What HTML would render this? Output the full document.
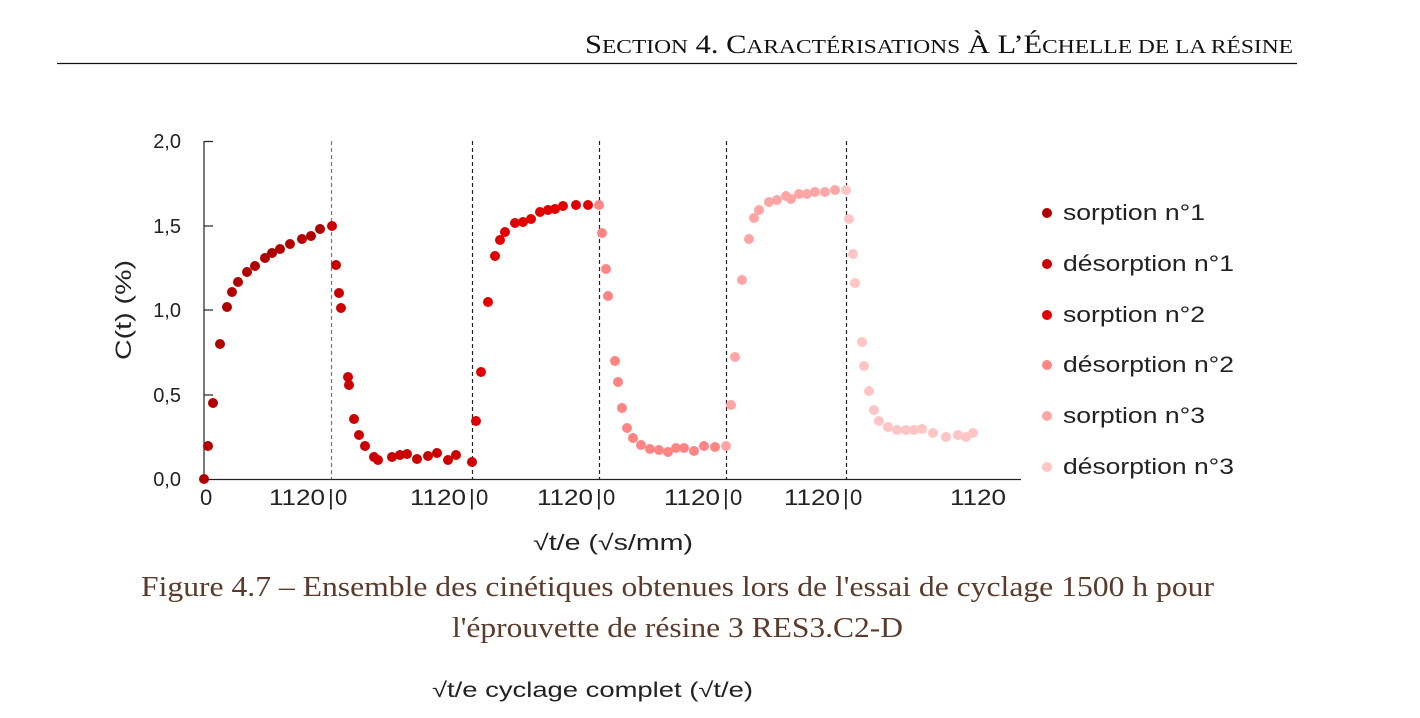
<!DOCTYPE html>
<html><head><meta charset="utf-8"><style>
body{margin:0;width:1420px;height:718px;background:#fff;overflow:hidden;position:relative}
svg{position:absolute;left:0;top:0}
</style></head><body>
<svg width="1420" height="718" xmlns="http://www.w3.org/2000/svg">
<text x="585" y="53" textLength="708" lengthAdjust="spacingAndGlyphs" font-family="Liberation Serif, serif" font-size="26" fill="#111"><tspan>S</tspan><tspan font-size="20">ECTION</tspan> 4. <tspan>C</tspan><tspan font-size="20">ARACTÉRISATIONS</tspan> <tspan>À</tspan> <tspan>L’É</tspan><tspan font-size="20">CHELLE DE LA RÉSINE</tspan></text>
<line x1="57" y1="63.5" x2="1297" y2="63.5" stroke="#111" stroke-width="1.2"/>
<g stroke="#222" stroke-width="1.2">
<line x1="204" y1="141" x2="204" y2="479"/>
<line x1="204" y1="479.5" x2="1021" y2="479.5"/>
<line x1="204" y1="141.5" x2="213" y2="141.5"/><line x1="204" y1="226" x2="213" y2="226"/><line x1="204" y1="310" x2="213" y2="310"/><line x1="204" y1="395" x2="213" y2="395"/>
</g>
<g stroke="#222" stroke-width="1.2" stroke-dasharray="4,3">
<line x1="331.5" y1="141" x2="331.5" y2="479" stroke="#777"/>
<line x1="472.5" y1="141" x2="472.5" y2="479"/>
<line x1="599.5" y1="141" x2="599.5" y2="479"/>
<line x1="726.5" y1="141" x2="726.5" y2="479"/>
<line x1="846.5" y1="141" x2="846.5" y2="479"/>
</g>
<g font-family="Liberation Sans, sans-serif" font-size="20" fill="#222" text-anchor="end">
<text x="181" y="148">2,0</text><text x="181" y="233">1,5</text><text x="181" y="317">1,0</text><text x="181" y="402">0,5</text><text x="181" y="486">0,0</text>
</g>
<g font-family="Liberation Sans, sans-serif" font-size="22" fill="#222">
<text x="200" y="505">0</text>
<text x="269" y="505" textLength="56" lengthAdjust="spacingAndGlyphs">1120</text><text x="328" y="505">|</text><text x="335" y="505">0</text>
<text x="410" y="505" textLength="56" lengthAdjust="spacingAndGlyphs">1120</text><text x="469" y="505">|</text><text x="476" y="505">0</text>
<text x="537" y="505" textLength="56" lengthAdjust="spacingAndGlyphs">1120</text><text x="596" y="505">|</text><text x="603" y="505">0</text>
<text x="664" y="505" textLength="56" lengthAdjust="spacingAndGlyphs">1120</text><text x="723" y="505">|</text><text x="730" y="505">0</text>
<text x="784" y="505" textLength="56" lengthAdjust="spacingAndGlyphs">1120</text><text x="843" y="505">|</text><text x="850" y="505">0</text>
<text x="950" y="505" textLength="56" lengthAdjust="spacingAndGlyphs">1120</text>
<text x="533" y="550" textLength="160" lengthAdjust="spacingAndGlyphs">√t/e  (√s/mm)</text>
<text transform="translate(131,360) rotate(-90)" textLength="100" lengthAdjust="spacingAndGlyphs">C(t)  (%)</text>
</g>
<g fill="#b00000">
<circle cx="204" cy="479" r="5"/><circle cx="208" cy="446" r="5"/><circle cx="213" cy="403" r="5"/><circle cx="220" cy="344" r="5"/><circle cx="227" cy="307" r="5"/><circle cx="232" cy="292" r="5"/><circle cx="238" cy="282" r="5"/><circle cx="247" cy="272" r="5"/><circle cx="255" cy="266" r="5"/><circle cx="265" cy="258" r="5"/><circle cx="272" cy="253" r="5"/><circle cx="280" cy="249" r="5"/><circle cx="290" cy="244" r="5"/><circle cx="302" cy="239" r="5"/><circle cx="311" cy="236" r="5"/><circle cx="320" cy="229" r="5"/>
</g>
<g fill="#cc0000">
<circle cx="332" cy="226" r="5"/><circle cx="336" cy="265" r="5"/><circle cx="339" cy="293" r="5"/><circle cx="341" cy="308" r="5"/><circle cx="348" cy="377" r="5"/><circle cx="349" cy="385" r="5"/><circle cx="354" cy="419" r="5"/><circle cx="359" cy="435" r="5"/><circle cx="365" cy="446" r="5"/><circle cx="374" cy="457" r="5"/><circle cx="378" cy="460" r="5"/><circle cx="392" cy="457" r="5"/><circle cx="400" cy="455" r="5"/><circle cx="407" cy="454" r="5"/><circle cx="417" cy="459" r="5"/><circle cx="428" cy="456" r="5"/><circle cx="437" cy="453" r="5"/><circle cx="448" cy="460" r="5"/><circle cx="456" cy="455" r="5"/><circle cx="472" cy="462" r="5"/>
</g>
<g fill="#e00000">
<circle cx="476" cy="421" r="5"/><circle cx="481" cy="372" r="5"/><circle cx="488" cy="302" r="5"/><circle cx="495" cy="256" r="5"/><circle cx="500" cy="240" r="5"/><circle cx="505" cy="232" r="5"/><circle cx="515" cy="223" r="5"/><circle cx="523" cy="222" r="5"/><circle cx="531" cy="219" r="5"/><circle cx="540" cy="212" r="5"/><circle cx="548" cy="210" r="5"/><circle cx="555" cy="209" r="5"/><circle cx="563" cy="206" r="5"/><circle cx="576" cy="205" r="5"/><circle cx="588" cy="205" r="5"/>
</g>
<g fill="#ff8585">
<circle cx="599" cy="205" r="5"/><circle cx="602" cy="233" r="5"/><circle cx="606" cy="269" r="5"/><circle cx="608" cy="296" r="5"/><circle cx="615" cy="361" r="5"/><circle cx="618" cy="382" r="5"/><circle cx="622" cy="408" r="5"/><circle cx="627" cy="428" r="5"/><circle cx="633" cy="438" r="5"/><circle cx="641" cy="445" r="5"/><circle cx="650" cy="449" r="5"/><circle cx="659" cy="450" r="5"/><circle cx="668" cy="452" r="5"/><circle cx="676" cy="448" r="5"/><circle cx="684" cy="448" r="5"/><circle cx="694" cy="451" r="5"/><circle cx="704" cy="446" r="5"/><circle cx="715" cy="447" r="5"/>
</g>
<g fill="#ffa5a5">
<circle cx="726" cy="446" r="5"/><circle cx="731" cy="405" r="5"/><circle cx="735" cy="357" r="5"/><circle cx="742" cy="280" r="5"/><circle cx="749" cy="239" r="5"/><circle cx="754" cy="218" r="5"/><circle cx="759" cy="210" r="5"/><circle cx="769" cy="202" r="5"/><circle cx="777" cy="200" r="5"/><circle cx="786" cy="196" r="5"/><circle cx="791" cy="199" r="5"/><circle cx="799" cy="194" r="5"/><circle cx="807" cy="194" r="5"/><circle cx="815" cy="192" r="5"/><circle cx="825" cy="192" r="5"/><circle cx="835" cy="190" r="5"/>
</g>
<g fill="#ffc4c4">
<circle cx="846" cy="190" r="5"/><circle cx="849" cy="219" r="5"/><circle cx="853" cy="254" r="5"/><circle cx="855" cy="283" r="5"/><circle cx="862" cy="342" r="5"/><circle cx="864" cy="366" r="5"/><circle cx="869" cy="391" r="5"/><circle cx="874" cy="410" r="5"/><circle cx="879" cy="421" r="5"/><circle cx="888" cy="427" r="5"/><circle cx="897" cy="430" r="5"/><circle cx="906" cy="430" r="5"/><circle cx="914" cy="430" r="5"/><circle cx="922" cy="429" r="5"/><circle cx="933" cy="433" r="5"/><circle cx="946" cy="437" r="5"/><circle cx="958" cy="435" r="5"/><circle cx="966" cy="437" r="5"/><circle cx="973" cy="433" r="5"/>
</g>
<circle cx="1047" cy="213" r="5" fill="#b00000"/><circle cx="1047" cy="264" r="5" fill="#cc0000"/><circle cx="1047" cy="315" r="5" fill="#e00000"/><circle cx="1047" cy="365" r="5" fill="#ff8585"/><circle cx="1047" cy="416" r="5" fill="#ffa5a5"/><circle cx="1047" cy="467" r="5" fill="#ffc4c4"/>
<g font-family="Liberation Sans, sans-serif" font-size="22" fill="#222">
<text x="1063" y="220" textLength="142" lengthAdjust="spacingAndGlyphs">sorption n°1</text><text x="1063" y="271" textLength="171" lengthAdjust="spacingAndGlyphs">désorption n°1</text><text x="1063" y="322" textLength="142" lengthAdjust="spacingAndGlyphs">sorption n°2</text><text x="1063" y="372" textLength="171" lengthAdjust="spacingAndGlyphs">désorption n°2</text><text x="1063" y="423" textLength="142" lengthAdjust="spacingAndGlyphs">sorption n°3</text><text x="1063" y="474" textLength="171" lengthAdjust="spacingAndGlyphs">désorption n°3</text>
<text x="432" y="697" font-size="21" textLength="321" lengthAdjust="spacingAndGlyphs">√t/e cyclage complet  (√t/e)</text>
</g>
<g font-family="Liberation Serif, serif" font-size="28" fill="#5b3b2b">
<text x="141" y="596" textLength="1073" lengthAdjust="spacingAndGlyphs">Figure 4.7 – Ensemble des cinétiques obtenues lors de l'essai de cyclage 1500 h pour</text>
<text x="452" y="637" textLength="451" lengthAdjust="spacingAndGlyphs">l'éprouvette de résine 3 RES3.C2-D</text>
</g>
</svg>
</body></html>
